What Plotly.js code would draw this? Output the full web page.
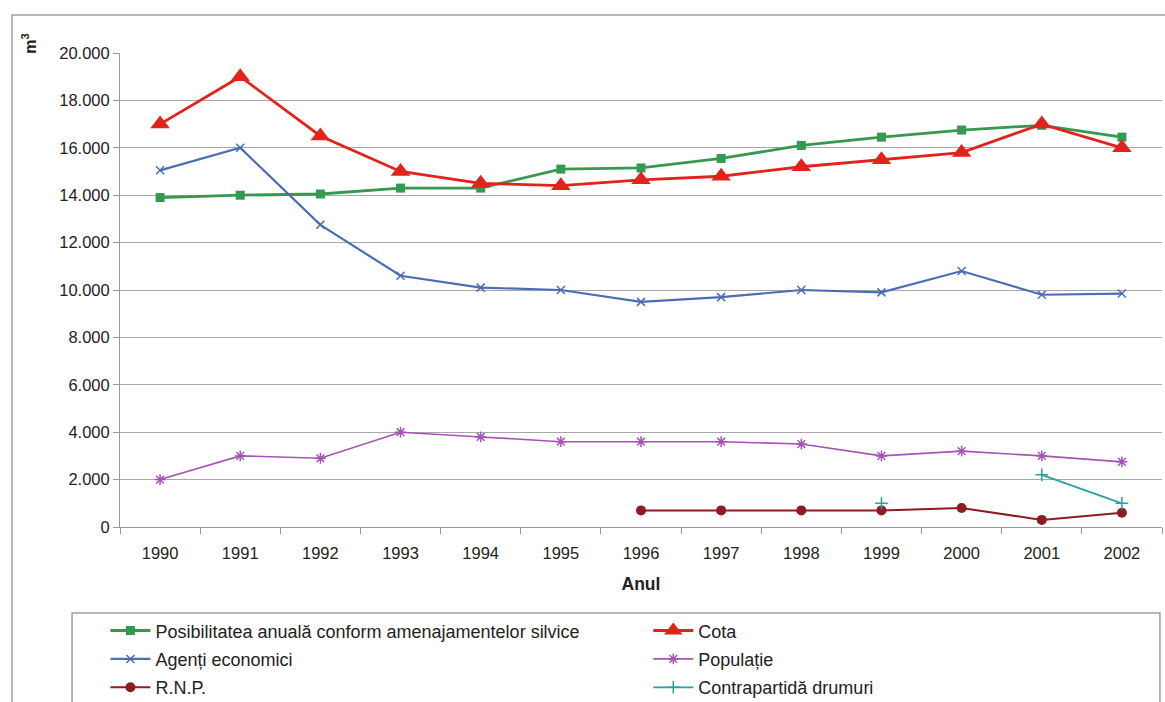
<!DOCTYPE html>
<html><head><meta charset="utf-8">
<script src="https://cdn.plot.ly/plotly-3.0.1.min.js"></script>
<style>html,body{margin:0;padding:0;background:#fff;}#chart{width:1165px;height:702px;}</style>
</head><body><div id="chart"></div>
<script>
const years = ["1990","1991","1992","1993","1994","1995","1996","1997","1998","1999","2000","2001","2002"];
const posibilitatea = [13900,14000,14050,14300,14300,15100,15150,15550,16100,16450,16750,16950,16450];
const cota = [17000,19000,16500,15000,14500,14400,14650,14800,15200,15500,15800,17000,16000];
const agenti = [15050,16000,12750,10600,10100,10000,9500,9700,10000,9900,10800,9800,9850];
const populatie = [2000,3000,2900,4000,3800,3600,3600,3600,3500,3000,3200,3000,2750];
const rnp = [null,null,null,null,null,null,700,700,700,700,800,300,600];
const contrapartida = [null,null,null,null,null,null,null,null,null,1000,null,2200,1000];
const names = ["Posibilitatea anuală conform amenajamentelor silvice","Cota","Agenți economici","Populație","R.N.P.","Contrapartidă drumuri"];

const traces = [
 {x:years,y:posibilitatea,name:names[0],legend:"legend",legendgroup:"g0",mode:"lines+markers",line:{color:"#35994f",width:2.8},marker:{symbol:"square",size:9,color:"#35994f"}},
 {x:years,y:cota,name:names[1],legend:"legend2",legendgroup:"g1",mode:"lines+markers",line:{color:"#e2231c",width:2.8},marker:{symbol:"triangle-up",size:17,color:"#e2231c"}},
 {x:years,y:agenti,name:names[2],legend:"legend",legendgroup:"g2",mode:"lines+markers",line:{color:"#4b6db5",width:2.2},marker:{symbol:"x-thin-open",size:8,line:{color:"#4b6db5",width:1.5}}},
 {x:years,y:populatie,name:names[3],legend:"legend2",legendgroup:"g3",mode:"lines+markers",line:{color:"#a455b3",width:1.6},marker:{symbol:"asterisk-open",size:9,line:{color:"#8a3a9a",width:1.5}}},
 {x:years,y:rnp,name:names[4],legend:"legend",legendgroup:"g4",mode:"lines+markers",line:{color:"#8c1c22",width:2},marker:{symbol:"circle",size:10,color:"#8c1c22"},connectgaps:false},
 {x:years,y:contrapartida,name:names[5],legend:"legend2",legendgroup:"g5",mode:"lines+markers",line:{color:"#28a3a0",width:1.8},marker:{symbol:"cross-thin-open",size:9,line:{color:"#28a3a0",width:1.5}},connectgaps:false}
];

const legendCommon = {orientation:"v",yanchor:"top",font:{size:18,color:"#222"},bgcolor:"rgba(0,0,0,0)",tracegroupgap:2,itemwidth:40};

const layout = {
 width:1165,height:702,
 paper_bgcolor:"#fff",plot_bgcolor:"#fff",
 font:{family:"Liberation Sans, Arial, sans-serif",size:16,color:"#222"},
 separators:",.",
 margin:{l:120,r:3,t:53,b:175,autoexpand:false},
 showlegend:true,
 legend:Object.assign({x:-0.014,xanchor:"left",y:-0.18},legendCommon),
 legend2:Object.assign({x:0.507,xanchor:"left",y:-0.18},legendCommon),
 xaxis:{type:"category",range:[-0.5,12.5],tickson:"boundaries",ticks:"outside",ticklen:6,tickcolor:"#999",
   showline:true,linecolor:"#999",linewidth:1,showgrid:false,tickfont:{size:16.5,color:"#222"},automargin:false,
   ticklabelstandoff:11,
   title:{text:"<b>Anul</b>",font:{size:17.5,color:"#222"},standoff:16}},
 yaxis:{range:[0,20000],dtick:2000,tickformat:",.0f",ticks:"outside",ticklen:6,tickcolor:"#999",automargin:false,
   showline:true,linecolor:"#999",linewidth:1,showgrid:true,gridcolor:"#a8a8a8",gridwidth:1,zeroline:false,
   tickfont:{size:16.5,color:"#222"}},
 shapes:[
  {type:"rect",xref:"paper",yref:"paper",x0:-0.1036,x1:1.05,y0:-0.6,y1:1.0802,line:{color:"#a0a0a0",width:1.5},fillcolor:"rgba(0,0,0,0)",layer:"below"},
  {type:"rect",xref:"paper",yref:"paper",x0:-0.046,x1:0.998,y0:-0.6,y1:-0.1814,line:{color:"#a0a0a0",width:1.5},fillcolor:"rgba(0,0,0,0)",layer:"below"}
 ],
 annotations:[
  {xref:"paper",yref:"paper",x:-0.088,y:1.02,xanchor:"center",yanchor:"middle",text:"<b>m<sup>3</sup></b>",textangle:-90,showarrow:false,font:{size:16,color:"#222"}}
 ]
};
Plotly.newPlot("chart",traces,layout,{displayModeBar:false,staticPlot:true});
</script></body></html>
